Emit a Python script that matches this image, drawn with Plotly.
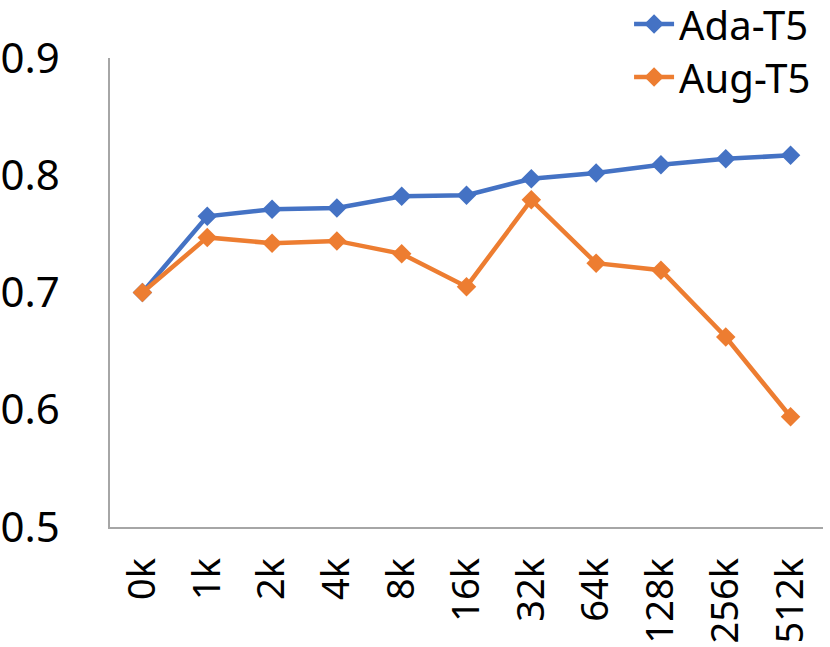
import plotly.graph_objects as go

categories = ["0k", "1k", "2k", "4k", "8k", "16k", "32k", "64k", "128k", "256k", "512k"]
ada_t5 = [0.700, 0.765, 0.771, 0.772, 0.782, 0.783, 0.797, 0.802, 0.809, 0.814, 0.817]
aug_t5 = [0.700, 0.747, 0.742, 0.744, 0.733, 0.705, 0.779, 0.725, 0.719, 0.662, 0.594]
y_ticks = [0.5, 0.6, 0.7, 0.8, 0.9]

font_main = "Noto Sans, Lato, sans-serif"

fig = go.Figure()
fig.add_trace(go.Scatter(x=categories, y=ada_t5, name="Ada-T5", mode="lines+markers",
                         legend="legend",
                         line=dict(color="#4472C4", width=4.5),
                         marker=dict(symbol="diamond", size=15, color="#4472C4")))
fig.add_trace(go.Scatter(x=categories, y=aug_t5, name="Aug-T5", mode="lines+markers",
                         legend="legend2",
                         line=dict(color="#ED7D31", width=4.5),
                         marker=dict(symbol="diamond", size=15, color="#ED7D31")))

legend_style = dict(xanchor="left", yanchor="top",
                    font=dict(family=font_main, size=40, color="black"),
                    bgcolor="rgba(0,0,0,0)", itemwidth=40)

fig.update_layout(
    width=830, height=647,
    margin=dict(l=110, r=7, t=58, b=120, autoexpand=False),
    paper_bgcolor="white", plot_bgcolor="white",
    showlegend=True,
    legend=dict(x=0.728, y=1.142, **legend_style),
    legend2=dict(x=0.728, y=1.029, **legend_style),
    xaxis=dict(type="category", range=[-0.5, 10.5], showgrid=False, zeroline=False,
               showline=True, linecolor="#A6A6A6", linewidth=1.5,
               tickangle=-90, ticks="", ticklabelstandoff=14,
               tickfont=dict(family=font_main, size=38, color="black")),
    yaxis=dict(range=[0.5, 0.9], tickvals=y_ticks, ticktext=[f"{v:.1f}" for v in y_ticks],
               showgrid=False, zeroline=False,
               showline=True, linecolor="#A6A6A6", linewidth=1.5, ticks="",
               ticklabelstandoff=40,
               tickfont=dict(family=font_main, size=42, color="black")),
)

fig.write_html("out.html", config={"displayModeBar": False},
               post_script="document.body.style.margin='0';")
